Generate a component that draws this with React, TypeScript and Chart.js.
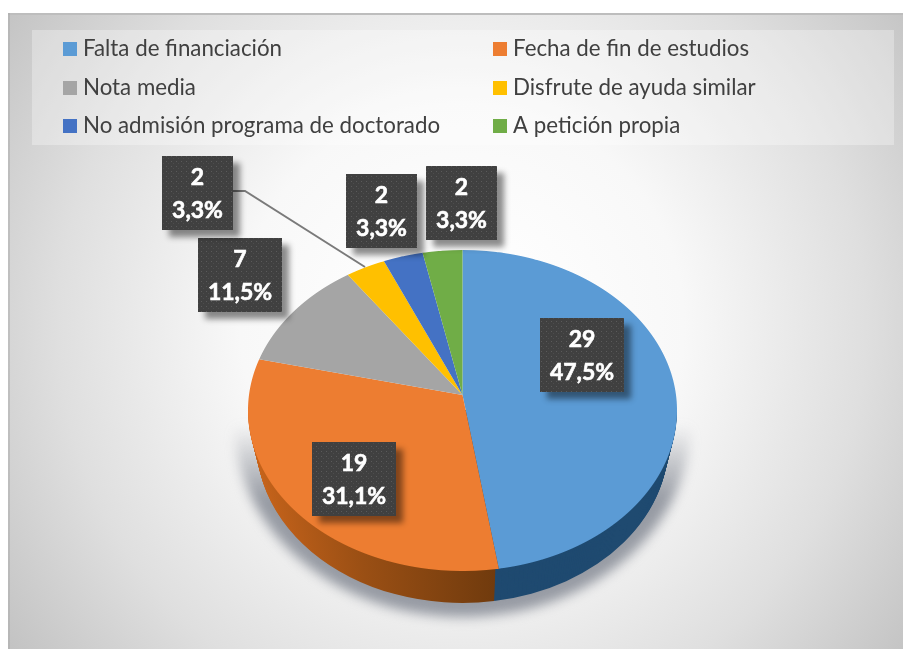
import React, { useEffect, useRef } from "react";
import { Chart, registerables } from "chart.js";

Chart.register(...registerables);

const categories = [
  "Falta de financiación",
  "Fecha de fin de estudios",
  "Nota media",
  "Disfrute de ayuda similar",
  "No admisión programa de doctorado",
  "A petición propia",
];
const counts = [29, 19, 7, 2, 2, 2];
const percentLabels = ["47,5%", "31,1%", "11,5%", "3,3%", "3,3%", "3,3%"];
const sliceColors = ["#5b9bd5", "#ed7d31", "#a5a5a5", "#ffc000", "#4472c4", "#70ad47"];
const sideColors = ["#1f4a70", "#8a4512", "#555555", "#7f6000", "#203864", "#385723"];

// Perspective of the tilted disc: apex, projected half-axes, and tilt strength
const CX = 462.5, CY = 395, RX = 214.5, DEPTH = 33;
const TILT = 0.0966, PROJ_A = 213.5, PROJ_B = 159;
const OUTLINE_CY = 410, OUTLINE_RY = 160;
// top-left corner and size of each value label box
const labelBoxes = [
  [540, 318, 84, 74],
  [312, 442, 84, 74],
  [198, 238, 84, 74],
  [162, 156, 71, 74],
  [346, 174, 71, 74],
  [426, 166, 71, 74],
];
const legendCols = [63, 493];
const legendRows = [49, 88, 126];

function dotPattern(ctx: CanvasRenderingContext2D) {
  const c = document.createElement("canvas");
  c.width = 5; c.height = 5;
  const p = c.getContext("2d")!;
  p.fillStyle = "#404040"; p.fillRect(0, 0, 5, 5);
  p.fillStyle = "#5a5a5a"; p.fillRect(1, 1, 1, 1);
  p.fillStyle = "#4d4d4d"; p.fillRect(3, 3, 1, 1);
  return ctx.createPattern(c, "repeat")!;
}

const backgroundPlugin = {
  id: "frameBackground",
  beforeDraw(chart: any) {
    const { ctx, width, height } = chart;
    ctx.save();
    ctx.fillStyle = "#ffffff";
    ctx.fillRect(0, 0, width, height);
    const fx = 8, fy = 13, fw = 895, fh = 636;
    const g = ctx.createRadialGradient(462, 325, 40, 462, 325, 560);
    g.addColorStop(0, "#ffffff");
    g.addColorStop(0.35, "#f8f8f8");
    g.addColorStop(0.7, "#dfdfdf");
    g.addColorStop(1, "#c2c2c2");
    ctx.fillStyle = g;
    ctx.fillRect(fx, fy, fw, fh);
    ctx.fillStyle = "#bdbdbd";
    ctx.fillRect(fx, fy, fw, 2);
    ctx.fillStyle = "rgba(170,170,170,0.5)";
    ctx.fillRect(fx, fy, 2, fh);
    ctx.fillStyle = "rgba(255,255,255,0.3)";
    ctx.fillRect(32, 30, 862, 115);

    // soft shadow under the pie, fading out upward
    ctx.save();
    ctx.filter = "blur(6px)";
    const sg = ctx.createLinearGradient(0, 425, 0, 500);
    sg.addColorStop(0, "rgba(135,140,150,0)");
    sg.addColorStop(1, "rgba(135,140,150,0.85)");
    ctx.fillStyle = sg;
    ctx.beginPath();
    ctx.ellipse(CX, 425, 228, 192, 0, 0, Math.PI);
    ctx.fill();
    ctx.restore();

    // legend
    ctx.textBaseline = "middle";
    ctx.font = '22.3px Lato, "Noto Sans", sans-serif';
    categories.forEach((name, i) => {
      const x = legendCols[i % 2], y = legendRows[Math.floor(i / 2)];
      ctx.fillStyle = sliceColors[i];
      ctx.fillRect(x, y - 7, 14, 14);
      ctx.fillStyle = "#404040";
      ctx.textAlign = "left";
      ctx.fillText(name, x + 20, y);
    });
    ctx.restore();
  },
};

const pie3dPlugin = {
  id: "pie3d",
  beforeDatasetDraw(chart: any) {
    const { ctx, width, height } = chart;
    const arcs = chart.getDatasetMeta(0).data;
    const sideGrad = (i: number) => {
      if (i !== 1) return sideColors[i];
      const g = ctx.createLinearGradient(248, 0, 500, 0);
      g.addColorStop(0, "#c8641b");
      g.addColorStop(0.45, "#9a4f14");
      g.addColorStop(1, "#6f3a0d");
      return g;
    };
    // side wall
    ctx.save();
    ctx.beginPath();
    ctx.rect(0, OUTLINE_CY, width, height - OUTLINE_CY);
    ctx.clip();
    for (let d = DEPTH; d >= 0; d--) {
      ctx.save();
      ctx.translate(CX, OUTLINE_CY + d);
      ctx.scale(1 - (d / DEPTH) * 0.04, OUTLINE_RY / RX);
      ctx.translate(-CX, -CY);
      arcs.forEach((arc: any, i: number) => {
        const keep = arc.options;
        arc.options = { ...keep, backgroundColor: sideGrad(i), borderWidth: 0 };
        arc.draw(ctx);
        arc.options = keep;
      });
      ctx.restore();
    }
    ctx.restore();
    // top face, drawn one pixel row at a time through the perspective mapping
    for (let Y = 248; Y < 574; Y++) {
      const dY = Y + 0.5 - CY;
      const v = dY / (PROJ_B + TILT * dY);
      const w = 1 - TILT * v;
      ctx.save();
      ctx.beginPath();
      ctx.rect(0, Y, width, 1);
      ctx.clip();
      const sx = PROJ_A / (w * RX);
      const sy = PROJ_B / (w * w * RX);
      ctx.setTransform(sx, 0, 0, sy, CX - sx * CX, Y + 0.5 - sy * (CY + RX * v));
      arcs.forEach((arc: any) => arc.draw(ctx));
      ctx.restore();
    }
    return false;
  },
  afterDatasetsDraw(chart: any) {
    const { ctx } = chart;
    ctx.save();
    // leader line
    ctx.strokeStyle = "#7a7a7a";
    ctx.lineWidth = 2;
    ctx.beginPath();
    ctx.moveTo(233, 191);
    ctx.lineTo(245, 191);
    ctx.lineTo(365, 267);
    ctx.stroke();

    const pattern = dotPattern(ctx);
    counts.forEach((v, i) => {
      const [x, y, w, h] = labelBoxes[i];
      ctx.save();
      ctx.shadowColor = "rgba(0,0,0,0.45)";
      ctx.shadowBlur = 6;
      ctx.shadowOffsetX = 7;
      ctx.shadowOffsetY = 7;
      ctx.fillStyle = "#404040";
      ctx.fillRect(x, y, w, h);
      ctx.restore();
      ctx.fillStyle = pattern;
      ctx.fillRect(x, y, w, h);
      ctx.fillStyle = "#ffffff";
      ctx.strokeStyle = "#ffffff";
      ctx.lineWidth = 0.6;
      ctx.font = 'bold 23px Lato, "Noto Sans", sans-serif';
      ctx.textAlign = "center";
      ctx.textBaseline = "middle";
      [String(v), percentLabels[i]].forEach((t, j) => {
        ctx.fillText(t, x + w / 2, y + 22 + j * 33);
        ctx.strokeText(t, x + w / 2, y + 22 + j * 33);
      });
    });
    ctx.restore();
  },
};

export default function App() {
  const ref = useRef<HTMLCanvasElement>(null);
  useEffect(() => {
    const chart = new Chart(ref.current!, {
      type: "pie",
      data: {
        labels: categories,
        datasets: [{ data: counts, backgroundColor: sliceColors, borderWidth: 0 }],
      },
      options: {
        responsive: false,
        animation: false,
        layout: {
          padding: {
            left: CX - RX,
            right: 903 - CX - RX,
            top: CY - RX,
            bottom: 649 - CY - RX,
          },
        },
        plugins: { legend: { display: false }, tooltip: { enabled: false } },
      },
      plugins: [backgroundPlugin, pie3dPlugin],
    } as any);
    return () => chart.destroy();
  }, []);
  return (
    <div style={{ position: "absolute", left: 0, top: 0, width: 903, height: 649 }}>
      <canvas ref={ref} width={903} height={649} style={{ display: "block" }} />
    </div>
  );
}
